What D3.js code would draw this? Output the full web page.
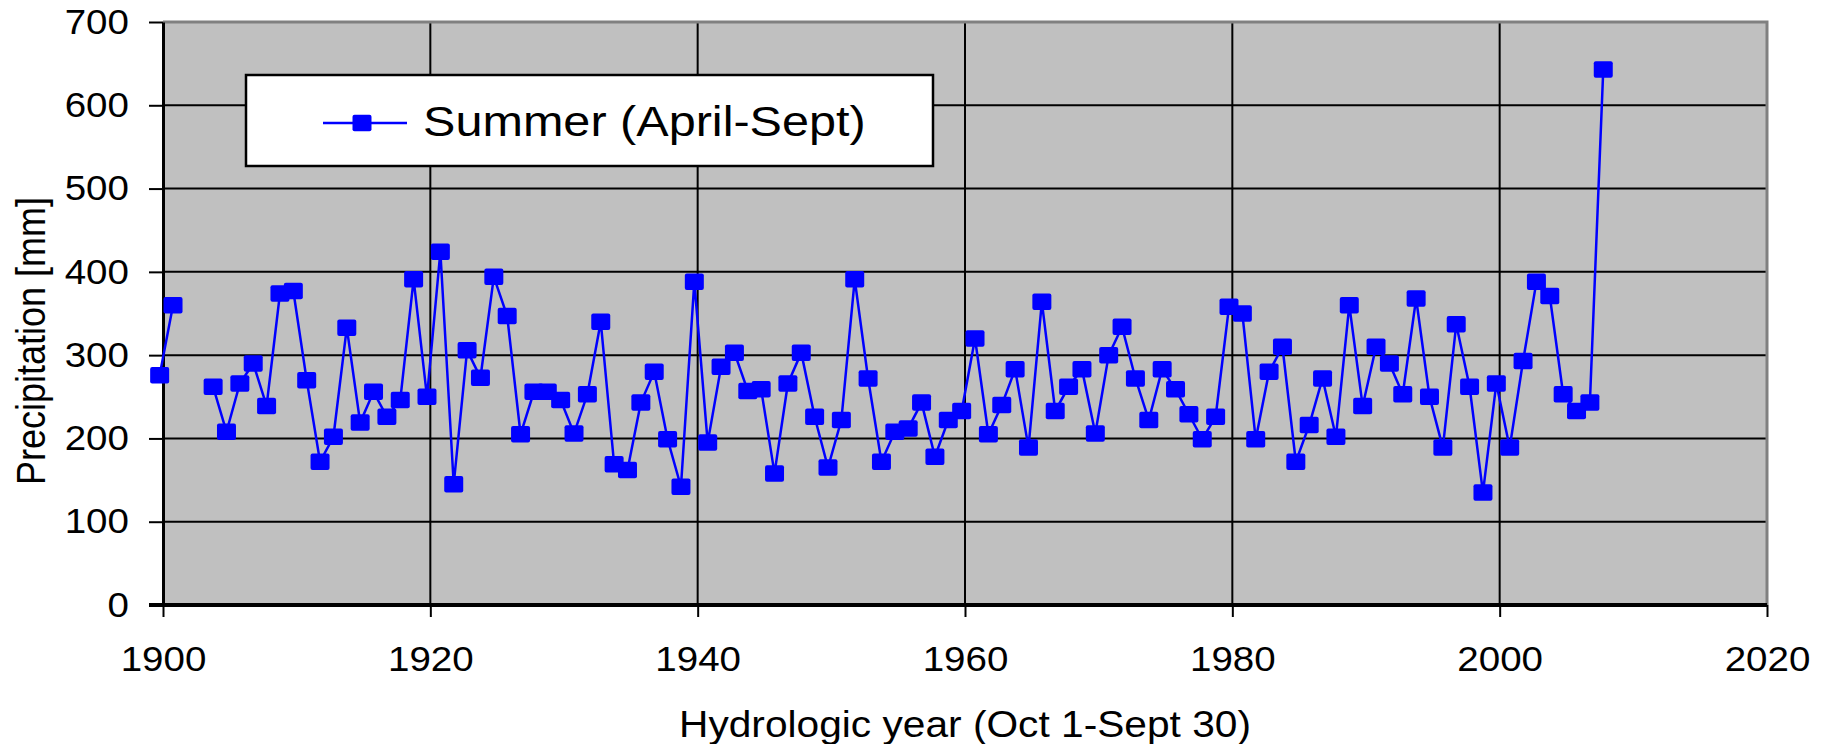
<!DOCTYPE html>
<html>
<head>
<meta charset="utf-8">
<script src="https://cdn.jsdelivr.net/npm/d3@7"></script>
<style>
  body { margin: 0; background: #fff; }
  text { font-family: "Liberation Sans", Arial, sans-serif; fill: #000; }
</style>
</head>
<body>
<div id="chart"></div>
<script>
// hydrologic years, summer (April-Sept) precipitation in mm; 1902-1903 missing
var years = d3.range(1900, 2009);
var summer = [
  276, 360, null, null, 262, 208, 266, 290, 239, 374,
  377, 270, 172, 202, 333, 219, 256, 226, 246, 391,
  250, 424, 145, 306, 273, 394, 347, 205, 256, 256,
  246, 206, 253, 340, 169, 162, 243, 280, 199, 142,
  388, 195, 286, 303, 257, 259, 158, 266, 303, 226,
  165, 222, 391, 272, 172, 208, 212, 243, 178, 222,
  233, 320, 205, 240, 283, 189, 364, 233, 262, 283,
  206, 300, 334, 272, 222, 283, 259, 229, 199, 226,
  358, 350, 199, 280, 310, 172, 216, 272, 202, 360,
  239, 310, 290, 253, 368, 250, 189, 337, 262, 135,
  266, 189, 293, 388, 371, 253, 233, 243, 643
];
var xTicks = [1900, 1920, 1940, 1960, 1980, 2000, 2020];
var yTicks = [0, 100, 200, 300, 400, 500, 600, 700];
var seriesName = "Summer (April-Sept)";

var data = years.map(function (y, i) { return { year: y, value: summer[i] }; });

// the hydrologic year starts Oct 1 of the previous calendar year
var yearStart = -0.25;
// the source picture has its text stretched sideways a bit
var sx = 1.1;

var W = 1822, H = 744;
var margin = { top: 22, right: 55, bottom: 139, left: 163 },
    width = W - margin.left - margin.right,
    height = H - margin.top - margin.bottom;

var svg = d3.select("#chart").append("svg")
  .attr("width", W).attr("height", H);
var g = svg.append("g")
  .attr("transform", "translate(" + margin.left + "," + margin.top + ")");

var x = d3.scaleLinear().domain([1900, 2020]).range([0, width]);
var y = d3.scaleLinear().domain([0, 700]).range([height, 0]);

// plot area
g.append("rect").attr("width", width).attr("height", height).attr("fill", "#c0c0c0");

// grid
g.selectAll(".hgrid").data(yTicks.filter(function (d) { return d > 0 && d < 700; }))
  .enter().append("line")
  .attr("x1", 0).attr("x2", width)
  .attr("y1", function (d) { return y(d); }).attr("y2", function (d) { return y(d); })
  .attr("stroke", "#000").attr("stroke-width", 2);
g.selectAll(".vgrid").data(xTicks.filter(function (d) { return d > 1900 && d < 2020; }))
  .enter().append("line")
  .attr("y1", 0).attr("y2", height)
  .attr("x1", function (d) { return x(d); }).attr("x2", function (d) { return x(d); })
  .attr("stroke", "#000").attr("stroke-width", 2);

// gray border top and right
g.append("path")
  .attr("d", "M0,0H" + width + "V" + height)
  .attr("fill", "none").attr("stroke", "#808080").attr("stroke-width", 3);

// axes
var xAxis = d3.axisBottom(x).tickValues(xTicks).tickFormat(d3.format("d"))
  .tickSizeInner(12).tickSizeOuter(0).tickPadding(29);
var gx = g.append("g").attr("transform", "translate(0," + height + ")").call(xAxis);
gx.select(".domain").attr("stroke-width", 4).attr("d", "M-14,0H" + width);
gx.selectAll(".tick line").attr("stroke-width", 2);
gx.selectAll("text").attr("font-size", 35).attr("font-family", null)
  .attr("transform", "scale(" + sx + ",1)");

var yAxis = d3.axisLeft(y).tickValues(yTicks).tickSizeInner(14).tickSizeOuter(0).tickPadding(0);
var gy = g.append("g").call(yAxis);
gy.select(".domain").attr("stroke-width", 3);
gy.selectAll(".tick line").attr("stroke-width", 2);
gy.selectAll("text").attr("font-size", 35).attr("font-family", null)
  .attr("x", -31).attr("transform", "scale(" + sx + ",1)");
gx.raise();

// series
var px = function (d) { return x(d.year + yearStart); };
var line = d3.line()
  .defined(function (d) { return d.value != null; })
  .x(px).y(function (d) { return y(d.value); });

g.append("path").datum(data)
  .attr("d", line)
  .attr("fill", "none").attr("stroke", "#0000ff").attr("stroke-width", 2.5);

var mw = 19, mh = 16.5;
g.selectAll(".pt").data(data.filter(function (d) { return d.value != null; }))
  .enter().append("rect")
  .attr("x", function (d) { return px(d) - mw / 2; })
  .attr("y", function (d) { return y(d.value) - mh / 2; })
  .attr("width", mw).attr("height", mh).attr("rx", 2)
  .attr("fill", "#0000ff");

// legend
var lg = svg.append("g").attr("transform", "translate(246,75)");
lg.append("rect").attr("width", 687).attr("height", 91)
  .attr("fill", "#fff").attr("stroke", "#000").attr("stroke-width", 2.5);
lg.append("line").attr("x1", 77).attr("x2", 161).attr("y1", 48).attr("y2", 48)
  .attr("stroke", "#0000ff").attr("stroke-width", 2.5);
lg.append("rect").attr("x", 116 - mw / 2).attr("y", 48 - mh / 2)
  .attr("width", mw).attr("height", mh).attr("rx", 2).attr("fill", "#0000ff");
lg.append("text")
  .attr("transform", "translate(177,61) scale(1.13,1)")
  .attr("font-size", 43).text(seriesName);

// axis titles
svg.append("text")
  .attr("transform", "translate(" + (margin.left + width / 2) + ",737) scale(1.13,1)")
  .attr("text-anchor", "middle").attr("font-size", 36)
  .text("Hydrologic year (Oct 1-Sept 30)");
svg.append("text")
  .attr("transform", "translate(45,341) scale(1.13,1) rotate(-90)")
  .attr("text-anchor", "middle").attr("font-size", 36)
  .text("Precipitation [mm]");
</script>
</body>
</html>
